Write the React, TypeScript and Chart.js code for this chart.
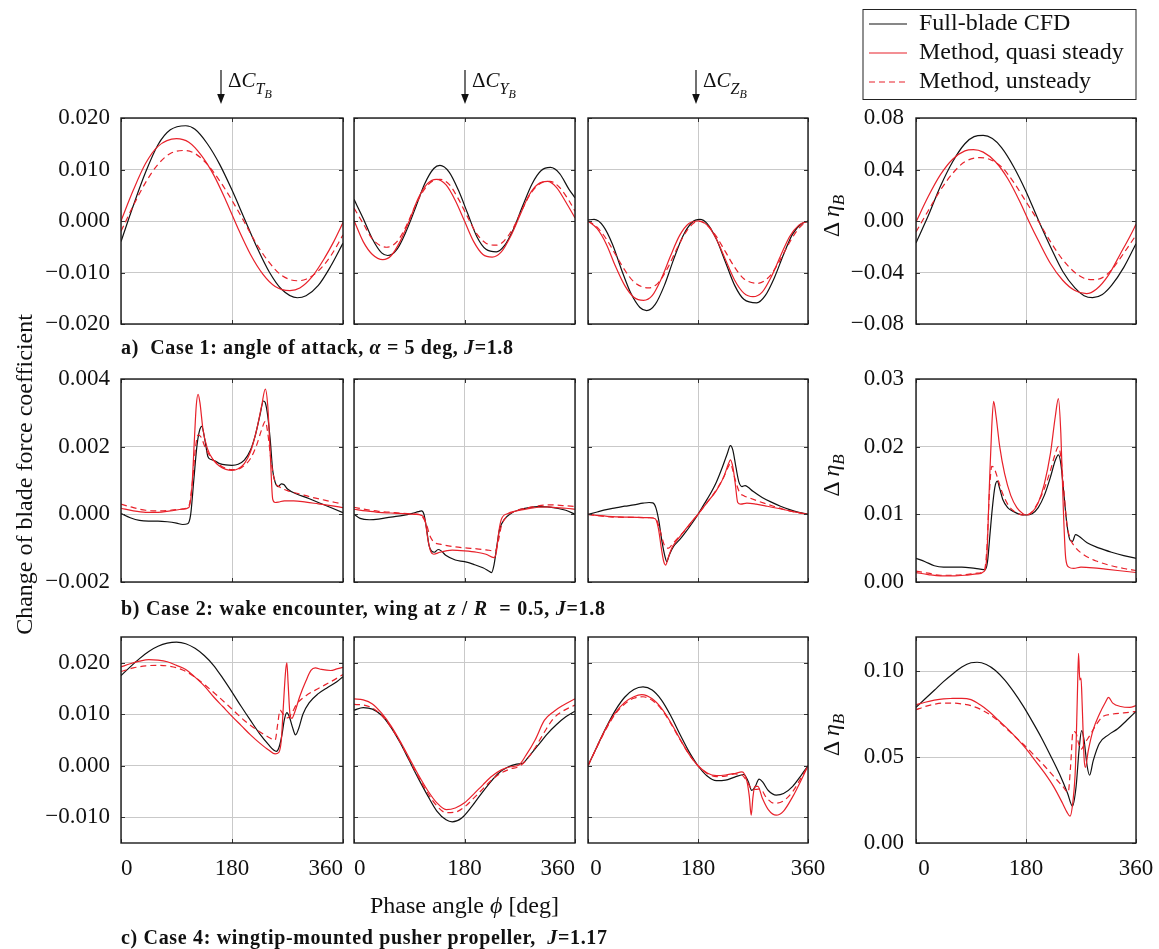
import React, { useEffect, useRef } from 'react';
import { Chart, registerables } from 'chart.js';
Chart.register(...registerables);

type Pt = [number, number];

// ---------- a) Case 1: angle of attack ----------
const aCTcfd: Pt[] = [[0,-0.0040],[20,0.0030],[40,0.0095],[60,0.0148],[80,0.0177],[105,0.0185],[120,0.0178],[140,0.0150],[160,0.0110],[180,0.0060],[200,0.0005],[220,-0.0050],[240,-0.0098],[260,-0.0132],[286,-0.0149],[300,-0.0145],[320,-0.0125],[340,-0.0088],[360,-0.0043]];
const aCTqs: Pt[] = [[0,0.0000],[20,0.0060],[40,0.0112],[60,0.0145],[90,0.0160],[110,0.0153],[130,0.0128],[150,0.0090],[170,0.0040],[190,-0.0015],[210,-0.0065],[230,-0.0103],[250,-0.0127],[274,-0.0135],[290,-0.0130],[310,-0.0108],[330,-0.0072],[345,-0.0040],[360,-0.0003]];
const aCTus: Pt[] = [[0,-0.0020],[20,0.0030],[40,0.0075],[60,0.0110],[80,0.0131],[104,0.0137],[120,0.0131],[140,0.0110],[160,0.0078],[180,0.0040],[200,-0.0002],[220,-0.0045],[240,-0.0080],[260,-0.0105],[285,-0.0116],[300,-0.0113],[320,-0.0097],[340,-0.0068],[360,-0.0027]];

const aCYcfd: Pt[] = [[0,0.0042],[15,0.0005],[30,-0.0035],[45,-0.0062],[55,-0.0067],[70,-0.0055],[85,-0.0020],[100,0.0025],[115,0.0072],[130,0.0102],[140,0.0108],[155,0.0095],[170,0.0060],[185,0.0015],[200,-0.0030],[215,-0.0055],[232,-0.0060],[245,-0.0048],[260,-0.0015],[275,0.0030],[290,0.0072],[305,0.0098],[320,0.0104],[335,0.0092],[350,0.0062],[360,0.0045]];
const aCYqs: Pt[] = [[0,0.0001],[15,-0.0040],[30,-0.0065],[47,-0.0075],[60,-0.0068],[75,-0.0040],[90,0.0000],[105,0.0045],[120,0.0073],[134,0.0081],[150,0.0070],[165,0.0040],[180,0.0000],[195,-0.0040],[210,-0.0065],[225,-0.0070],[240,-0.0060],[255,-0.0030],[270,0.0010],[285,0.0050],[300,0.0072],[315,0.0077],[330,0.0065],[345,0.0037],[360,0.0006]];
const aCYus: Pt[] = [[0,0.0025],[15,-0.0005],[30,-0.0035],[53,-0.0051],[70,-0.0040],[85,-0.0010],[100,0.0030],[115,0.0062],[130,0.0079],[140,0.0081],[155,0.0071],[170,0.0043],[185,0.0008],[200,-0.0025],[215,-0.0043],[232,-0.0047],[245,-0.0038],[260,-0.0012],[275,0.0025],[290,0.0057],[305,0.0074],[319,0.0077],[335,0.0065],[350,0.0040],[360,0.0019]];

const aCZcfd: Pt[] = [[0,0.0002],[10,0.0003],[25,-0.0010],[40,-0.0045],[55,-0.0095],[70,-0.0140],[85,-0.0168],[96,-0.0174],[110,-0.0162],[125,-0.0125],[140,-0.0075],[155,-0.0030],[170,-0.0003],[183,0.0003],[195,-0.0005],[210,-0.0035],[225,-0.0080],[240,-0.0125],[255,-0.0152],[276,-0.0159],[290,-0.0145],[305,-0.0110],[320,-0.0065],[335,-0.0025],[350,-0.0005],[360,-0.0001]];
const aCZqs: Pt[] = [[0,0.0000],[15,-0.0015],[30,-0.0045],[45,-0.0088],[60,-0.0125],[75,-0.0148],[91,-0.0154],[105,-0.0145],[120,-0.0112],[135,-0.0068],[150,-0.0028],[165,-0.0005],[180,0.0000],[195,-0.0008],[210,-0.0035],[225,-0.0075],[240,-0.0115],[255,-0.0140],[270,-0.0147],[285,-0.0138],[300,-0.0108],[315,-0.0068],[330,-0.0030],[345,-0.0008],[360,0.0000]];
const aCZus: Pt[] = [[0,0.0000],[15,-0.0012],[30,-0.0035],[45,-0.0065],[60,-0.0095],[75,-0.0118],[99,-0.0130],[115,-0.0120],[130,-0.0092],[145,-0.0055],[160,-0.0022],[172,-0.0005],[180,0.0000],[195,-0.0008],[210,-0.0030],[225,-0.0060],[240,-0.0090],[255,-0.0112],[278,-0.0121],[295,-0.0110],[310,-0.0085],[325,-0.0052],[340,-0.0022],[352,-0.0006],[360,0.0000]];

const aEtacfd: Pt[] = [[0,-0.0170],[20,0.0040],[40,0.0270],[60,0.0460],[80,0.0600],[95,0.0655],[110,0.0665],[125,0.0640],[140,0.0570],[160,0.0420],[180,0.0230],[200,0.0010],[220,-0.0200],[240,-0.0390],[260,-0.0520],[275,-0.0580],[289,-0.0595],[305,-0.0570],[320,-0.0500],[340,-0.0360],[360,-0.0176]];
const aEtaqs: Pt[] = [[0,-0.0008],[20,0.0190],[40,0.0360],[60,0.0480],[80,0.0545],[94,0.0554],[110,0.0535],[130,0.0460],[150,0.0330],[170,0.0150],[185,-0.0005],[200,-0.0150],[220,-0.0330],[240,-0.0460],[260,-0.0540],[279,-0.0564],[295,-0.0530],[315,-0.0420],[335,-0.0250],[350,-0.0120],[360,-0.0026]];
const aEtaus: Pt[] = [[0,-0.0085],[20,0.0080],[40,0.0240],[60,0.0370],[80,0.0460],[105,0.0492],[120,0.0480],[140,0.0420],[160,0.0300],[180,0.0150],[200,0.0000],[220,-0.0160],[240,-0.0300],[260,-0.0400],[275,-0.0445],[290,-0.0456],[305,-0.0440],[320,-0.0380],[340,-0.0250],[360,-0.0110]];

// ---------- b) Case 2: wake encounter ----------
const bCTcfd: Pt[] = [[0,0.00002],[15,-0.0001],[30,-0.00018],[45,-0.0002],[60,-0.0002],[75,-0.00022],[90,-0.00026],[100,-0.0003],[108,-0.00028],[113,0.0],[118,0.001],[123,0.002],[127,0.00245],[131,0.0026],[136,0.0022],[141,0.0017],[146,0.00162],[152,0.00158],[160,0.0015],[170,0.00146],[180,0.00145],[190,0.00148],[200,0.0016],[210,0.0019],[218,0.00235],[225,0.0029],[231,0.00335],[234,0.0033],[238,0.0029],[242,0.0022],[246,0.0013],[250,0.00095],[255,0.00082],[260,0.0009],[264,0.00088],[270,0.00075],[285,0.0006],[300,0.0005],[320,0.00035],[340,0.0002],[360,0.00005]];
const bCTqs: Pt[] = [[0,0.00018],[20,0.0001],[40,0.00006],[60,0.00006],[80,0.0001],[100,0.00015],[110,0.0002],[115,0.0008],[119,0.0022],[122,0.0032],[125,0.00355],[128,0.0033],[133,0.0025],[140,0.00195],[150,0.0016],[160,0.00142],[170,0.00133],[180,0.0013],[190,0.00135],[200,0.0015],[210,0.00185],[220,0.0025],[228,0.0032],[234,0.0037],[238,0.0032],[242,0.0018],[246,0.00045],[250,0.00035],[255,0.00036],[265,0.0004],[280,0.0004],[300,0.00036],[320,0.00031],[340,0.00026],[360,0.0002]];
const bCTus: Pt[] = [[0,0.0003],[20,0.0002],[40,0.00012],[60,0.0001],[80,0.00012],[100,0.00016],[110,0.00025],[116,0.001],[121,0.002],[125,0.00235],[130,0.00228],[136,0.002],[145,0.0017],[155,0.00152],[165,0.0014],[180,0.00132],[195,0.00138],[210,0.00165],[220,0.00205],[228,0.0025],[234,0.00275],[238,0.0024],[244,0.0015],[250,0.00095],[258,0.0008],[270,0.0007],[290,0.0006],[310,0.0005],[330,0.00042],[360,0.0003]];

const bCYcfd: Pt[] = [[0,0.0],[10,-0.00012],[25,-0.00016],[40,-0.00014],[60,-0.00008],[80,-0.00003],[95,0.00003],[105,0.00008],[110,0.0001],[114,0.0],[118,-0.0004],[122,-0.0009],[126,-0.00108],[131,-0.00112],[137,-0.00104],[142,-0.00108],[150,-0.00122],[165,-0.00135],[180,-0.0014],[195,-0.00148],[210,-0.00158],[220,-0.00168],[224,-0.00172],[228,-0.0015],[233,-0.0009],[237,-0.00045],[245,-0.00015],[255,0.00002],[270,0.00014],[285,0.0002],[300,0.00023],[315,0.00022],[330,0.00018],[345,0.00012],[360,0.0]];
const bCYqs: Pt[] = [[0,0.00015],[20,0.0001],[40,0.00006],[60,0.00004],[80,0.00002],[100,0.0],[110,-0.00003],[116,-0.0002],[120,-0.0007],[125,-0.0011],[130,-0.00118],[140,-0.00112],[160,-0.00106],[180,-0.00108],[200,-0.00112],[215,-0.00118],[228,-0.00128],[232,-0.0011],[236,-0.0005],[240,-0.00015],[250,0.00002],[265,0.0001],[285,0.00017],[300,0.00021],[315,0.00022],[330,0.0002],[345,0.00018],[360,0.00015]];
const bCYus: Pt[] = [[0,0.00021],[20,0.00014],[40,0.00009],[60,0.00006],[80,0.00003],[100,0.00001],[110,-0.00004],[118,-0.0003],[124,-0.00065],[130,-0.00082],[140,-0.00088],[160,-0.00095],[180,-0.00099],[200,-0.00102],[215,-0.00105],[230,-0.00108],[235,-0.0008],[240,-0.00035],[248,-0.00008],[260,0.00008],[280,0.00018],[300,0.00025],[320,0.00028],[340,0.00026],[360,0.00023]];

const bCZcfd: Pt[] = [[0,0.0],[15,0.00007],[30,0.00014],[45,0.00019],[60,0.00024],[75,0.00028],[90,0.00033],[100,0.00035],[106,0.00034],[111,0.0002],[116,-0.0002],[121,-0.0008],[126,-0.00125],[129,-0.0014],[133,-0.0012],[140,-0.00095],[150,-0.00075],[160,-0.00052],[170,-0.00027],[180,0.0],[190,0.0003],[200,0.0006],[210,0.00095],[220,0.0014],[228,0.0018],[233,0.00203],[237,0.0019],[242,0.0014],[247,0.00095],[252,0.00082],[257,0.00085],[262,0.0008],[270,0.00068],[285,0.0005],[300,0.00036],[315,0.00024],[330,0.00014],[345,0.00006],[360,0.0]];
const bCZqs: Pt[] = [[0,0.0],[20,-0.00004],[40,-0.00007],[60,-0.00008],[80,-0.00009],[100,-0.0001],[110,-0.00013],[115,-0.0004],[120,-0.001],[124,-0.0014],[127,-0.0015],[131,-0.0013],[137,-0.001],[145,-0.00078],[155,-0.00055],[168,-0.00025],[180,0.0],[195,0.00035],[210,0.0007],[222,0.0011],[230,0.0015],[233,0.00161],[237,0.0014],[241,0.0009],[245,0.00035],[250,0.0003],[260,0.00033],[275,0.0003],[290,0.00025],[310,0.00018],[330,0.0001],[345,0.00005],[360,0.0]];
const bCZus: Pt[] = [[0,0.0],[20,-0.00005],[40,-0.00008],[60,-0.00009],[80,-0.00009],[100,-0.0001],[110,-0.00012],[116,-0.00035],[122,-0.00075],[127,-0.00098],[132,-0.001],[138,-0.00088],[148,-0.00068],[160,-0.00045],[170,-0.00022],[180,0.0],[195,0.00035],[210,0.00072],[222,0.0011],[230,0.00142],[233,0.0015],[237,0.0013],[242,0.00095],[248,0.00065],[255,0.00055],[265,0.00048],[280,0.00038],[300,0.00026],[320,0.00015],[340,0.00006],[360,0.0]];

const bEtacfd: Pt[] = [[0,0.0035],[15,0.003],[30,0.0024],[45,0.0022],[60,0.0022],[75,0.0022],[90,0.0021],[105,0.0019],[113,0.0018],[117,0.003],[121,0.007],[125,0.011],[129,0.014],[133,0.0149],[137,0.0138],[142,0.0122],[150,0.011],[160,0.0104],[170,0.01],[180,0.0099],[190,0.0101],[200,0.011],[210,0.0128],[220,0.0155],[228,0.018],[233,0.0188],[237,0.0175],[242,0.013],[247,0.0085],[252,0.0062],[256,0.006],[261,0.007],[266,0.0068],[280,0.0058],[300,0.005],[320,0.0044],[340,0.0039],[360,0.0035]];
const bEtaqs: Pt[] = [[0,0.0014],[20,0.0011],[40,0.0009],[60,0.0009],[80,0.001],[100,0.0012],[112,0.0016],[116,0.004],[120,0.014],[124,0.023],[127,0.0267],[131,0.0245],[137,0.02],[145,0.016],[155,0.0128],[165,0.011],[175,0.0101],[181,0.0099],[190,0.0103],[200,0.0117],[210,0.0145],[220,0.019],[228,0.0245],[233,0.0271],[237,0.022],[241,0.011],[245,0.0035],[250,0.0022],[258,0.002],[270,0.0022],[290,0.0021],[310,0.0019],[330,0.0017],[360,0.0014]];
const bEtaus: Pt[] = [[0,0.0016],[20,0.0013],[40,0.001],[60,0.001],[80,0.0011],[100,0.0013],[112,0.0018],[116,0.005],[120,0.013],[124,0.0171],[128,0.0168],[133,0.0155],[140,0.0135],[150,0.0115],[160,0.0105],[170,0.01],[180,0.0099],[190,0.0104],[200,0.0118],[210,0.0138],[220,0.0165],[228,0.019],[233,0.02],[237,0.0185],[242,0.0135],[247,0.0085],[252,0.0065],[260,0.0052],[275,0.004],[295,0.0031],[320,0.0024],[340,0.002],[360,0.0017]];

// ---------- c) Case 4: wingtip-mounted pusher propeller ----------
const cCTcfd: Pt[] = [[0,0.0175],[15,0.0192],[30,0.0208],[45,0.0222],[60,0.0232],[75,0.0238],[90,0.024],[105,0.0237],[120,0.0228],[135,0.0214],[150,0.0195],[165,0.017],[180,0.0143],[195,0.0115],[210,0.0088],[225,0.0062],[240,0.004],[248,0.003],[252,0.0028],[256,0.0035],[261,0.006],[265,0.009],[269,0.0103],[273,0.0095],[278,0.0075],[283,0.006],[288,0.0072],[295,0.01],[305,0.0122],[320,0.014],[335,0.0152],[350,0.0163],[360,0.0173]];
const cCTqs: Pt[] = [[0,0.0192],[15,0.0198],[30,0.0203],[45,0.0206],[60,0.0205],[75,0.0202],[90,0.0195],[105,0.0187],[120,0.0172],[135,0.0155],[150,0.0134],[165,0.0115],[180,0.0096],[195,0.0078],[210,0.006],[225,0.0044],[240,0.003],[250,0.0023],[256,0.0026],[260,0.005],[263,0.011],[267,0.0185],[269,0.02],[271,0.016],[274,0.01],[277,0.0092],[282,0.0105],[290,0.0135],[300,0.0165],[308,0.0185],[315,0.019],[325,0.0187],[340,0.0185],[350,0.0188],[360,0.0191]];
const cCTus: Pt[] = [[0,0.0183],[20,0.019],[40,0.0194],[60,0.0195],[80,0.0193],[100,0.0186],[120,0.0172],[140,0.0153],[160,0.0132],[180,0.011],[200,0.0088],[220,0.007],[240,0.0055],[250,0.005],[254,0.008],[258,0.0108],[263,0.01],[270,0.0093],[276,0.01],[285,0.012],[300,0.0136],[320,0.015],[340,0.0163],[360,0.0177]];

const cCYcfd: Pt[] = [[0,0.0108],[15,0.0113],[30,0.011],[45,0.0098],[60,0.0075],[75,0.0045],[90,0.001],[105,-0.0025],[120,-0.0058],[135,-0.0088],[150,-0.0105],[160,-0.0109],[175,-0.0102],[190,-0.0082],[205,-0.0058],[220,-0.0035],[235,-0.0015],[250,-0.0003],[265,0.0003],[275,0.0005],[285,0.0018],[300,0.004],[315,0.0062],[330,0.008],[345,0.0095],[360,0.0106]];
const cCYqs: Pt[] = [[0,0.013],[15,0.0128],[30,0.012],[45,0.0102],[60,0.0078],[75,0.0048],[90,0.0015],[105,-0.0018],[120,-0.0048],[135,-0.0072],[150,-0.0085],[165,-0.0082],[180,-0.0072],[195,-0.0055],[210,-0.0037],[225,-0.002],[240,-0.0008],[255,-0.0002],[268,0.0001],[280,0.002],[295,0.005],[310,0.0088],[325,0.0105],[340,0.0117],[360,0.013]];
const cCYus: Pt[] = [[0,0.0119],[15,0.0118],[30,0.0112],[45,0.0098],[60,0.0075],[75,0.0046],[90,0.0012],[105,-0.0022],[120,-0.0053],[135,-0.0078],[150,-0.0091],[165,-0.009],[180,-0.008],[195,-0.0063],[210,-0.0045],[225,-0.0027],[240,-0.0014],[255,-0.0006],[268,-0.0002],[280,0.001],[295,0.0035],[310,0.0065],[325,0.0092],[340,0.0106],[360,0.0118]];

const cCZcfd: Pt[] = [[0,0.0],[15,0.0038],[30,0.0075],[45,0.0108],[60,0.0133],[75,0.0148],[90,0.0153],[105,0.0147],[120,0.0128],[135,0.0098],[150,0.0062],[165,0.0028],[180,0.0],[195,-0.002],[210,-0.0029],[225,-0.0028],[240,-0.0022],[255,-0.0017],[262,-0.003],[268,-0.0048],[273,-0.0042],[280,-0.0026],[286,-0.0032],[295,-0.0048],[308,-0.0057],[320,-0.0054],[335,-0.004],[348,-0.002],[360,0.0]];
const cCZqs: Pt[] = [[0,0.0],[15,0.0038],[30,0.0074],[45,0.0103],[60,0.0123],[75,0.0134],[88,0.0138],[105,0.013],[120,0.0112],[135,0.0085],[150,0.0053],[165,0.0023],[180,0.0],[195,-0.0014],[210,-0.0019],[225,-0.0018],[240,-0.0015],[252,-0.0012],[260,-0.003],[264,-0.006],[267,-0.0096],[270,-0.006],[273,-0.004],[278,-0.004],[285,-0.0062],[295,-0.0085],[308,-0.0096],[320,-0.0088],[335,-0.006],[348,-0.003],[360,0.0]];
const cCZus: Pt[] = [[0,0.0],[15,0.0037],[30,0.0072],[45,0.0101],[60,0.012],[75,0.0131],[90,0.0134],[105,0.0127],[120,0.011],[135,0.0083],[150,0.0052],[165,0.0023],[180,0.0],[195,-0.0015],[210,-0.0021],[225,-0.002],[240,-0.0016],[252,-0.0018],[260,-0.003],[268,-0.0045],[275,-0.0046],[282,-0.0045],[292,-0.0062],[305,-0.0073],[320,-0.0068],[335,-0.005],[348,-0.0025],[360,0.0]];

const cEtacfd: Pt[] = [[0,0.079],[15,0.084],[30,0.089],[45,0.094],[60,0.0985],[75,0.1025],[90,0.105],[100,0.1053],[115,0.104],[130,0.1005],[145,0.095],[160,0.088],[175,0.08],[190,0.071],[205,0.0615],[220,0.051],[235,0.04],[248,0.029],[256,0.0215],[262,0.033],[267,0.055],[271,0.0655],[275,0.06],[280,0.045],[284,0.0395],[290,0.048],[300,0.058],[315,0.063],[330,0.0665],[345,0.0715],[360,0.0766]];
const cEtaqs: Pt[] = [[0,0.0805],[15,0.082],[30,0.0832],[45,0.084],[60,0.0842],[75,0.0843],[90,0.0835],[105,0.0805],[120,0.0765],[135,0.0715],[150,0.0665],[165,0.061],[180,0.055],[195,0.048],[210,0.041],[225,0.033],[240,0.023],[247,0.018],[252,0.0157],[257,0.025],[261,0.045],[264,0.085],[266,0.1105],[268,0.095],[270,0.096],[272,0.08],[275,0.05],[277,0.044],[282,0.054],[290,0.066],[300,0.075],[310,0.082],[315,0.0848],[322,0.0815],[335,0.0795],[350,0.079],[360,0.08]];
const cEtaus: Pt[] = [[0,0.0776],[15,0.0795],[30,0.0808],[45,0.0815],[60,0.0815],[75,0.081],[90,0.08],[105,0.078],[120,0.075],[135,0.071],[150,0.066],[165,0.061],[180,0.056],[195,0.0505],[210,0.045],[225,0.039],[240,0.033],[249,0.0295],[253,0.045],[257,0.065],[262,0.064],[266,0.058],[270,0.0545],[276,0.058],[285,0.063],[295,0.069],[305,0.0735],[320,0.075],[340,0.0758],[360,0.0766]];

// ---------- ticks & labels ----------
const phaseTicks = [0, 180, 360];
const forceTicksA = [-0.02, -0.01, 0, 0.01, 0.02];
const etaTicksA = [-0.08, -0.04, 0, 0.04, 0.08];
const forceTicksB = [-0.002, 0, 0.002, 0.004];
const etaTicksB = [0, 0.01, 0.02, 0.03];
const forceTicksC = [-0.01, 0, 0.01, 0.02];
const etaTicksC = [0, 0.05, 0.1];
const seriesNames = ['Full-blade CFD', 'Method, quasi steady', 'Method, unsteady'];
const componentLabels = ['T', 'Y', 'Z'];

// ---------- layout & style ----------
const FONT = '"Liberation Serif", "Times New Roman", "DejaVu Serif", serif';
const BLACK = '#111111';
const RED = '#e8212a';
const GRID = '#c9c9c9';
const colLeft = [121, 354, 588, 916];
const colWidth = [222, 221, 220, 220];
const rowTop = [118, 379, 637];
const rowHeight = [206, 203, 206];
const ML = 100, MT = 34, MR = 30, MB = 50;
const arrowX = [221, 465, 696];

type PanelDef = { row: number; col: number; series: Pt[][]; min: number; max: number; ticks: number[]; dec: number };

const panels: PanelDef[] = [
  { row: 0, col: 0, series: [aCTcfd, aCTqs, aCTus], min: -0.02, max: 0.02, ticks: forceTicksA, dec: 3 },
  { row: 0, col: 1, series: [aCYcfd, aCYqs, aCYus], min: -0.02, max: 0.02, ticks: forceTicksA, dec: 3 },
  { row: 0, col: 2, series: [aCZcfd, aCZqs, aCZus], min: -0.02, max: 0.02, ticks: forceTicksA, dec: 3 },
  { row: 0, col: 3, series: [aEtacfd, aEtaqs, aEtaus], min: -0.08, max: 0.08, ticks: etaTicksA, dec: 2 },
  { row: 1, col: 0, series: [bCTcfd, bCTqs, bCTus], min: -0.002, max: 0.004, ticks: forceTicksB, dec: 3 },
  { row: 1, col: 1, series: [bCYcfd, bCYqs, bCYus], min: -0.002, max: 0.004, ticks: forceTicksB, dec: 3 },
  { row: 1, col: 2, series: [bCZcfd, bCZqs, bCZus], min: -0.002, max: 0.004, ticks: forceTicksB, dec: 3 },
  { row: 1, col: 3, series: [bEtacfd, bEtaqs, bEtaus], min: 0, max: 0.03, ticks: etaTicksB, dec: 2 },
  { row: 2, col: 0, series: [cCTcfd, cCTqs, cCTus], min: -0.015, max: 0.025, ticks: forceTicksC, dec: 3 },
  { row: 2, col: 1, series: [cCYcfd, cCYqs, cCYus], min: -0.015, max: 0.025, ticks: forceTicksC, dec: 3 },
  { row: 2, col: 2, series: [cCZcfd, cCZqs, cCZus], min: -0.015, max: 0.025, ticks: forceTicksC, dec: 3 },
  { row: 2, col: 3, series: [cEtacfd, cEtaqs, cEtaus], min: 0, max: 0.12, ticks: etaTicksC, dec: 2 },
];

function fmt(v: number, dec: number): string {
  const s = Math.abs(v) < 1e-12 ? (0).toFixed(dec) : v.toFixed(dec);
  return s.replace('-', '\u2212');
}

const frameTicksPlugin = {
  id: 'frameTicks',
  afterDatasetsDraw(chart: any) {
    const { ctx, chartArea: a } = chart;
    const xs = chart.scales.x;
    const ys = chart.scales.y;
    ctx.save();
    ctx.beginPath();
    ctx.strokeStyle = '#333';
    ctx.lineWidth = 1;
    for (const t of ys.ticks) {
      const p = Math.round(ys.getPixelForValue(t.value)) + 0.5;
      ctx.moveTo(a.left, p); ctx.lineTo(a.left + 4, p);
      ctx.moveTo(a.right, p); ctx.lineTo(a.right - 4, p);
    }
    for (const t of xs.ticks) {
      const p = Math.round(xs.getPixelForValue(t.value)) + 0.5;
      ctx.moveTo(p, a.top); ctx.lineTo(p, a.top + 4);
      ctx.moveTo(p, a.bottom); ctx.lineTo(p, a.bottom - 4);
    }
    ctx.stroke();
    ctx.lineWidth = 1.4;
    ctx.strokeStyle = '#1a1a1a';
    ctx.strokeRect(a.left, a.top, a.right - a.left, a.bottom - a.top);
    ctx.restore();
  },
};

function Panel({ def }: { def: PanelDef }) {
  const ref = useRef<HTMLCanvasElement>(null);
  const w = colWidth[def.col];
  const h = rowHeight[def.row];
  const showY = def.col === 0 || def.col === 3;
  const showX = def.row === 2;
  const centered = def.col >= 2;
  useEffect(() => {
    const [cfd, qs, us] = def.series;
    const toXY = (s: Pt[]) => s.map(([x, y]) => ({ x, y }));
    const chart = new Chart(ref.current!, {
      type: 'line',
      data: {
        datasets: [
          { label: seriesNames[1], data: toXY(qs), borderColor: RED, borderWidth: 1.2 },
          { label: seriesNames[2], data: toXY(us), borderColor: RED, borderWidth: 1.2, borderDash: [6, 4] },
          { label: seriesNames[0], data: toXY(cfd), borderColor: BLACK, borderWidth: 1.2 },
        ],
      },
      options: {
        animation: false,
        responsive: false,
        events: [],
        layout: { padding: { left: 0, top: MT, right: MR, bottom: 0 } },
        elements: {
          point: { radius: 0 },
          line: { cubicInterpolationMode: 'monotone', fill: false },
        },
        plugins: { legend: { display: false }, tooltip: { enabled: false } },
        scales: {
          x: {
            type: 'linear',
            min: 0,
            max: 360,
            afterBuildTicks: (s: any) => { s.ticks = phaseTicks.map((v) => ({ value: v })); },
            afterFit: (s: any) => { s.height = MB; },
            grid: { color: GRID, lineWidth: 1, drawTicks: false },
            border: { display: false },
            ticks: {
              display: showX,
              padding: 12,
              maxRotation: 0,
              autoSkip: false,
              align: centered ? 'center' : 'inner',
              color: BLACK,
              font: { family: FONT, size: 23 },
              callback: (v: any) => (centered && Number(v) === 0 ? '\u2002\u20090' : String(v)),
            },
          },
          y: {
            type: 'linear',
            min: def.min,
            max: def.max,
            afterBuildTicks: (s: any) => { s.ticks = def.ticks.map((v) => ({ value: v })); },
            afterFit: (s: any) => { s.width = ML; },
            grid: { color: GRID, lineWidth: 1, drawTicks: false },
            border: { display: false },
            ticks: {
              display: showY,
              padding: def.col === 3 ? 12 : 11,
              autoSkip: false,
              color: BLACK,
              font: { family: FONT, size: 23 },
              callback: (v: any) => fmt(Number(v), def.dec),
            },
          },
        },
      } as any,
      plugins: [frameTicksPlugin],
    });
    return () => chart.destroy();
  }, []);
  return (
    <canvas
      ref={ref}
      width={ML + w + MR}
      height={MT + h + MB}
      style={{ position: 'absolute', left: colLeft[def.col] - ML, top: rowTop[def.row] - MT }}
    />
  );
}

function Overlay() {
  const etaCenters = rowTop.map((t, i) => t + rowHeight[i] / 2 - 5);
  return (
    <svg
      width={1159}
      height={949}
      style={{ position: 'absolute', left: 0, top: 0, pointerEvents: 'none', fontFamily: FONT }}
    >
      {/* legend */}
      <rect x={863} y={9.5} width={273} height={90} fill="#fff" stroke="#222" strokeWidth={1} />
      <line x1={869} x2={907} y1={24} y2={24} stroke={BLACK} strokeWidth={1.2} />
      <line x1={869} x2={907} y1={53} y2={53} stroke={RED} strokeWidth={1.2} />
      <line x1={869} x2={907} y1={82} y2={82} stroke={RED} strokeWidth={1.2} strokeDasharray="6 4" />
      <text x={919} y={30} fontSize={24} fill={BLACK}>{seriesNames[0]}</text>
      <text x={919} y={59} fontSize={24} fill={BLACK}>{seriesNames[1]}</text>
      <text x={919} y={88} fontSize={24} fill={BLACK}>{seriesNames[2]}</text>

      {/* component arrows */}
      {arrowX.map((x, i) => (
        <g key={i}>
          <line x1={x} x2={x} y1={70} y2={96} stroke={BLACK} strokeWidth={1.2} />
          <polygon points={`${x - 3.8},${94} ${x + 3.8},${94} ${x},${104}`} fill={BLACK} />
          <text x={x + 7} y={87} fontSize={21} fill={BLACK}>
            {'Δ'}
            <tspan fontStyle="italic">C</tspan>
            <tspan fontStyle="italic" fontSize={16} dy={7}>{componentLabels[i]}</tspan>
            <tspan fontStyle="italic" fontSize={12} dy={4}>B</tspan>
          </text>
        </g>
      ))}

      {/* eta labels */}
      {etaCenters.map((cy, i) => (
        <text key={i} transform={`translate(839,${cy}) rotate(-90)`} textAnchor="middle" fontSize={24} fill={BLACK}>
          {'Δ '}
          <tspan fontStyle="italic">η</tspan>
          <tspan fontStyle="italic" fontSize={17} dy={5}>B</tspan>
        </text>
      ))}

      {/* y axis title */}
      <text transform="translate(32,474.5) rotate(-90)" textAnchor="middle" fontSize={24} fill={BLACK}>
        Change of blade force coefficient
      </text>
      {/* x axis title */}
      <text x={464.5} y={913} textAnchor="middle" fontSize={24} fill={BLACK}>
        {'Phase angle '}
        <tspan fontStyle="italic">ϕ</tspan>
        {' [deg]'}
      </text>

      {/* captions */}
      <text x={121} y={354} fontSize={20} fontWeight="bold" fill={BLACK} textLength={392} lengthAdjust="spacing" style={{ whiteSpace: 'pre' }}>
        {'a)  Case 1: angle of attack, '}
        <tspan fontStyle="italic">α</tspan>
        {' = 5 deg, '}
        <tspan fontStyle="italic">J</tspan>
        {'=1.8'}
      </text>
      <text x={121} y={614.5} fontSize={20} fontWeight="bold" fill={BLACK} textLength={484} lengthAdjust="spacing" style={{ whiteSpace: 'pre' }}>
        {'b) Case 2: wake encounter, wing at '}
        <tspan fontStyle="italic">z</tspan>
        {' / '}
        <tspan fontStyle="italic">R</tspan>
        {'  = 0.5, '}
        <tspan fontStyle="italic">J</tspan>
        {'=1.8'}
      </text>
      <text x={121} y={944} fontSize={20} fontWeight="bold" fill={BLACK} textLength={486} lengthAdjust="spacing" style={{ whiteSpace: 'pre' }}>
        {'c) Case 4: wingtip-mounted pusher propeller,  '}
        <tspan fontStyle="italic">J</tspan>
        {'=1.17'}
      </text>
    </svg>
  );
}

export default function App() {
  return (
    <div
      style={{
        position: 'absolute',
        left: 0,
        top: 0,
        width: 1159,
        height: 949,
        overflow: 'hidden',
        background: '#fff',
      }}
    >
      {panels.map((p, i) => (
        <Panel key={i} def={p} />
      ))}
      <Overlay />
    </div>
  );
}
